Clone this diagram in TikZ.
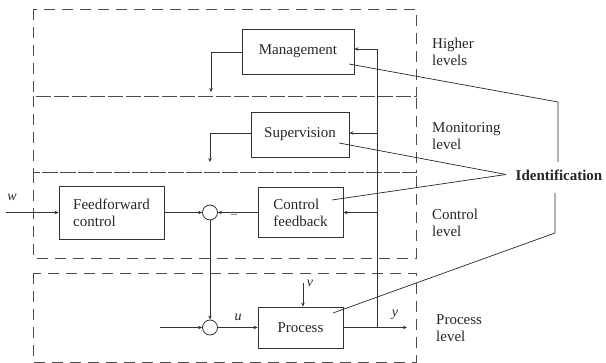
\documentclass[tikz,border=0pt]{standalone}
\usepackage{fontspec}
\setmainfont{Liberation Serif}
\usetikzlibrary{arrows.meta}
\begin{document}
\begin{tikzpicture}[x=1pt,y=-1pt,
  every node/.style={font=\fontsize{15}{17}\selectfont, text=black!85},
  blk/.style={draw=black!80, line width=0.8pt, inner sep=0pt},
  lvl/.style={draw=black!70, line width=0.8pt, dash pattern=on 11pt off 7pt},
  sig/.style={draw=black!80, line width=0.8pt},
  arr/.style={sig, -{Stealth[length=4pt,width=3.5pt]}},
  idl/.style={draw=black!85, line width=0.7pt},
  lbl/.style={align=left, anchor=west, inner sep=0pt},
  sumj/.style={circle, draw=black!80, line width=0.8pt, minimum size=15pt, inner sep=0pt}]
\useasboundingbox (0,0) rectangle (606,363);
% level boxes
\draw[lvl] (33,9) rectangle (416,96);
\draw[lvl] (33,96) rectangle (416,172);
\draw[lvl] (33,172) rectangle (416,258);
\draw[lvl] (33,273) rectangle (416,362);
% level labels
\node[lbl] (l1) at (432,52) {Higher\\levels};
\node[lbl] (l2) at (432,136) {Monitoring\\level};
\node[lbl] (l3) at (432,223) {Control\\level};
\node[lbl] (l4) at (436,328) {Process\\level};
% blocks
\node[blk, minimum width=112pt, minimum height=45pt] (mg) at (298,51.5) {Management};
\node[blk, minimum width=98pt, minimum height=45pt] (sv) at (300,134.5) {Supervision};
\node[blk, minimum width=85pt, minimum height=50pt, align=left] (cf) at (300.5,212.5) {Control\\feedback};
\node[blk, minimum width=105pt, minimum height=53pt, align=left] (ff) at (111.5,212.5) {Feedforward\\control};
\node[blk, minimum width=85pt, minimum height=41pt] (pr) at (300.5,327.5) {Process};
\node[sumj] (s1) at (210,212.5) {};
\node[sumj] (s2) at (210,327.5) {};
\node[font=\fontsize{15}{17}\selectfont\bfseries] (id) at (559,175) {Identification};
% signal labels
\node[font=\fontsize{14}{16}\selectfont\itshape] (w) at (12,197) {w};
\node[font=\fontsize{14}{16}\selectfont\itshape] (u) at (238,317) {u};
\node[font=\fontsize{14}{16}\selectfont\itshape] (v) at (310,283) {v};
\node[font=\fontsize{14}{16}\selectfont\itshape] (yl) at (395,315) {y};
\node (minus) at (234,216) {\fontsize{12}{14}\selectfont --};
% coordinates
\coordinate (win) at (6,212.5);
\coordinate (uin) at (160,327.5);
\coordinate (yout) at (407,327.5);
\coordinate (vin) at (303,283);
\coordinate (jn) at (377,327.5);
\coordinate (jtop) at (377,49);
\coordinate (jsv) at (377,133);
\coordinate (jcf) at (377,212.5);
\coordinate (mgl) at (211,52);
\coordinate (mgd) at (211,92);
\coordinate (svl) at (210,133);
\coordinate (svd) at (210,162);
% signals
\draw[arr] (win) -- (ff.west);
\draw[arr] (ff.east) -- (s1.west);
\draw[arr] (cf.west) -- (s1.east);
\draw[arr] (s1.south) -- (s2.north);
\draw[arr] (uin) -- (s2.west);
\draw[arr] (s2.east) -- (pr.west);
\draw[arr] (pr.east) -- (yout);
\draw[arr] (vin) -- (vin |- pr.north);
\draw[sig] (jn) -- (jtop);
\draw[arr] (jtop) -- (jtop -| mg.east);
\draw[arr] (jsv) -- (sv.east |- jsv);
\draw[arr] (jcf) -- (cf.east);
\draw[arr] (mg.west |- mgl) -- (mgl) -- (mgd);
\draw[arr] (sv.west |- svl) -- (svl) -- (svd);
% identification lines
\coordinate (imA) at (349,64);
\coordinate (imB) at (558,102);
\coordinate (imC) at (558,162);
\coordinate (isA) at (339,143);
\coordinate (icA) at (332,200);
\coordinate (iP) at (506,174.5);
\coordinate (ipA) at (333,313);
\coordinate (ipB) at (555,233);
\coordinate (ipC) at (555,193);
\draw[idl] (imA) -- (imB) -- (imC);
\draw[idl] (isA) -- (iP);
\draw[idl] (icA) -- (iP);
\draw[idl] (ipA) -- (ipB) -- (ipC);
\end{tikzpicture}
\end{document}
